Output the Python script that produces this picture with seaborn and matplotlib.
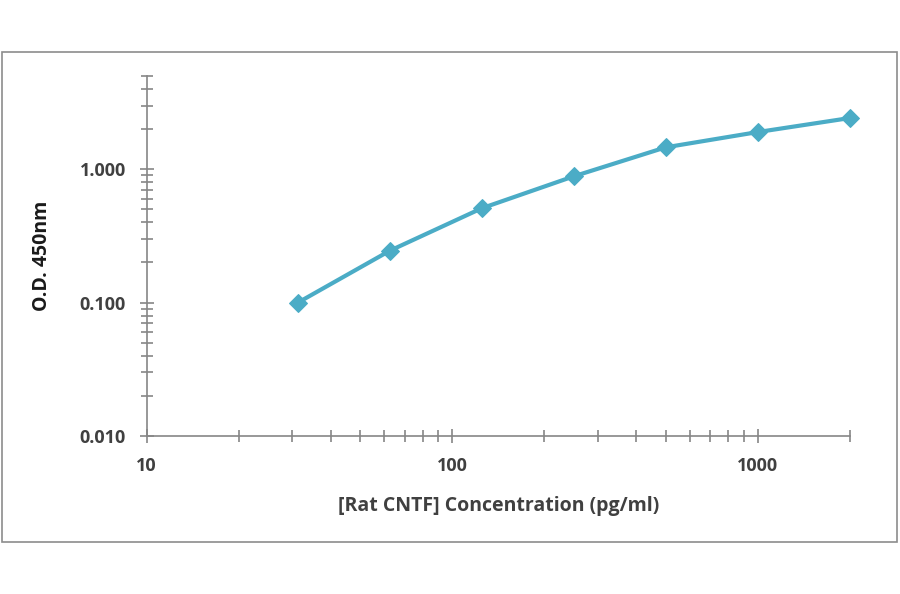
import numpy as np
import pandas as pd
import matplotlib
matplotlib.use('Agg')
import matplotlib.pyplot as plt
import matplotlib.ticker as mticker
from matplotlib.patches import Rectangle
import seaborn as sns

# 표준곡선 데이터
conc = [31.25, 62.5, 125, 250, 500, 1000, 2000]
od = [0.100, 0.245, 0.51, 0.885, 1.46, 1.90, 2.42]

df = pd.DataFrame({'conc': conc, 'od': od})

sns.set_style('white')
plt.rcParams['font.family'] = ['Open Sans', 'DejaVu Sans']

fig = plt.figure(figsize=(9, 5.94), dpi=100)
ax = fig.add_axes([0.163, 0.266, 0.781, 0.606])

sns.lineplot(data=df, x='conc', y='od', ax=ax, color='#4BACC6', linewidth=3,
             marker='D', markersize=9, markeredgecolor='#4BACC6', clip_on=False)

ax.set_xscale('log')
ax.set_yscale('log')
ax.set_xlim(10, 2000)
ax.set_ylim(0.01, 5)

ax.xaxis.set_major_locator(mticker.FixedLocator([10, 100, 1000]))
ax.xaxis.set_major_formatter(mticker.FixedFormatter(['10', '100', '1000']))
ax.xaxis.set_minor_locator(mticker.LogLocator(base=10, subs=np.arange(2, 10), numticks=20))
ax.yaxis.set_major_locator(mticker.FixedLocator([0.01, 0.1, 1]))
ax.yaxis.set_major_formatter(mticker.FixedFormatter(['0.010', '0.100', '1.000']))
ax.yaxis.set_minor_locator(mticker.LogLocator(base=10, subs=np.arange(2, 10), numticks=20))

for s in ['top', 'right']:
    ax.spines[s].set_visible(False)
for s in ['left', 'bottom']:
    ax.spines[s].set_color('#868686')
    ax.spines[s].set_linewidth(1.2)

ax.tick_params(which='both', bottom=True, left=True, direction='inout',
               color='#868686', width=1.2)
ax.tick_params(which='major', length=10, labelsize=13, labelcolor='#404040')
ax.tick_params(which='minor', length=8)
ax.tick_params(axis='y', which='major', pad=10)
ax.tick_params(axis='x', which='major', pad=10)
for lab in ax.get_xticklabels() + ax.get_yticklabels():
    lab.set_fontweight('bold')

ax.set_xlabel('[Rat CNTF] Concentration (pg/ml)', fontsize=14, fontweight='bold',
              color='#404040', labelpad=15)
ax.set_ylabel('O.D. 450nm', fontsize=14, fontweight='bold', color='#1a1a1a', labelpad=20)
ax.grid(False)

# 바깥 테두리
fig.patches.append(Rectangle((0.002, 0.0875), 0.995, 0.825, transform=fig.transFigure,
                             fill=False, edgecolor='#8c8c8c', linewidth=1.2))

fig.savefig('out.png', dpi=100)
